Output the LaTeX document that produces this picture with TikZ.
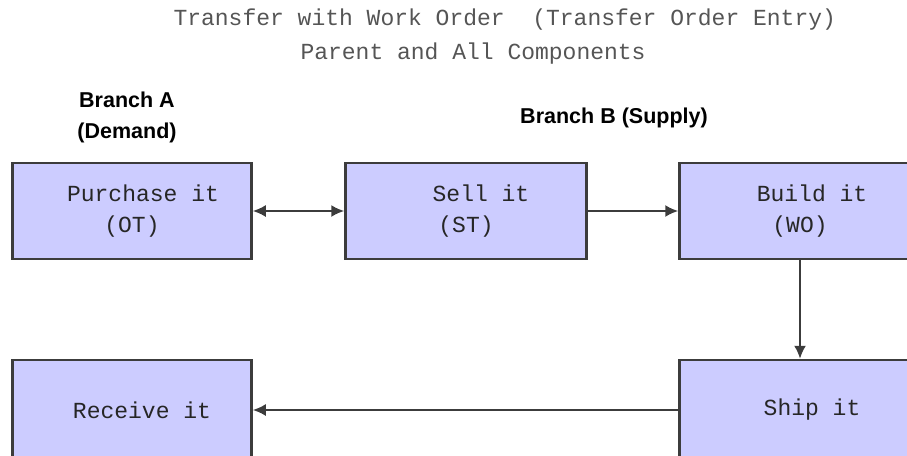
\documentclass[tikz,border=0pt]{standalone}
\usepackage{fontspec}
\setmainfont{Liberation Sans}
\setmonofont{Liberation Mono}
\usetikzlibrary{arrows.meta, positioning}
\definecolor{boxcolor}{RGB}{204, 204, 255}
\definecolor{edgecolor}{RGB}{60, 60, 60}
\definecolor{titlecolor}{RGB}{85, 85, 85}

\begin{document}
\begin{tikzpicture}[x=1pt, y=-1pt,
    stepbox/.style={draw=edgecolor, line width=2.5pt, fill=boxcolor, minimum width=239pt,
        minimum height=96pt, inner sep=0pt, align=center, text=black!85,
        font=\fontsize{23}{31}\selectfont\ttfamily},
    flow/.style={draw=edgecolor, line width=2pt, >={Latex[length=13pt, width=12pt]}},
    title/.style={anchor=west, text=titlecolor, font=\fontsize{23}{31}\selectfont\ttfamily},
    branch/.style={align=center, font=\fontsize{21.5}{31}\selectfont\bfseries}]
\useasboundingbox (0,0) rectangle (907,455);

% Titles
\node[title] (title1) at (170,20) {Transfer with Work Order\ \ (Transfer Order Entry)};
\node[title] (title2) at (297,54) {Parent and All Components};
\node[branch] (brancha) at (127,117) {Branch A\\(Demand)};
\node[branch] (branchb) at (614,118) {Branch B (Supply)};

% Top row
\node[stepbox] (purchase) at (132,211) {\hspace*{22pt}Purchase it\\(OT)};
\node[stepbox, minimum width=241pt] (sell) at (466,211) {\hspace*{30pt}Sell it\\(ST)};
\node[stepbox, minimum width=241pt] (build) at (800,211) {\hspace*{24pt}Build it\\(WO)};

% Bottom row
\node[stepbox, minimum height=100pt] (receive) at (132,410) {\hspace*{20pt}Receive it};
\node[stepbox, minimum width=241pt, minimum height=100pt] (ship) at (800,410) {\hspace*{24pt}Ship it};

% Flow
\draw[flow, <->] (purchase) -- (sell);
\draw[flow, ->] (sell) -- (build);
\draw[flow, ->] (build) -- (ship);
\draw[flow, ->] (ship) -- (receive);
\end{tikzpicture}
\end{document}
